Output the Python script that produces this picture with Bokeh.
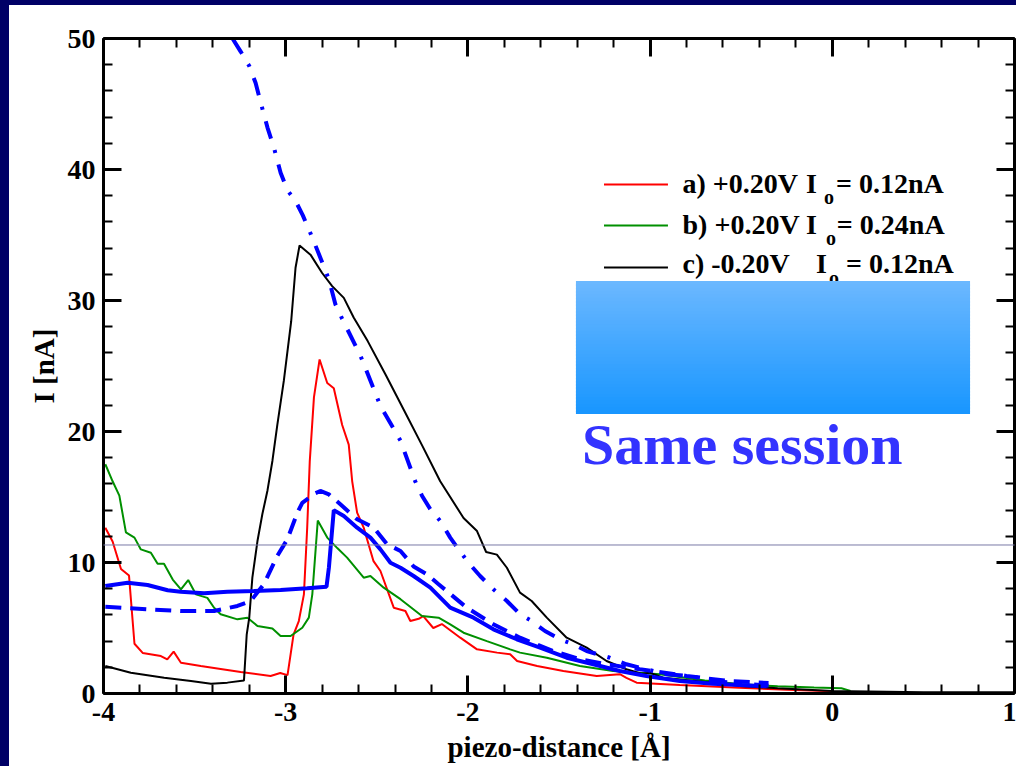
from bokeh.plotting import figure
from bokeh.models import (Range1d, LinearAxis, SingleIntervalTicker, Label,
                          BoxAnnotation, PolyAnnotation, Spacer, CustomJSTickFormatter)
from bokeh.layouts import row, column
from bokeh.embed import file_html
from bokeh.resources import INLINE

# ---------------- data ----------------
red_x = [-3.99, -3.95, -3.904, -3.86, -3.83, -3.785, -3.685, -3.65, -3.615, -3.575,
         -3.466, -3.357, -3.247, -3.083, -3.03, -2.99, -2.957, -2.928, -2.9, -2.882,
         -2.868, -2.845, -2.814, -2.772, -2.736, -2.69, -2.654, -2.635, -2.608, -2.572,
         -2.518, -2.48, -2.407, -2.343, -2.316, -2.27, -2.245, -2.19, -2.143, -2.042,
         -1.95, -1.84, -1.768, -1.73, -1.62, -1.476, -1.293, -1.166, -1.13, -1.074,
         -0.837, -0.51, -0.25, 0.0]
red_y = [12.65, 11.6, 9.5, 9.0, 3.8, 3.1, 2.86, 2.6, 3.2, 2.35,
         2.1, 1.87, 1.64, 1.34, 1.56, 1.4, 4.5, 5.53, 7.57, 12.66,
         17.7, 22.6, 25.5, 23.7, 23.3, 20.5, 19.0, 16.2, 13.8, 12.66,
         10.1, 9.35, 6.55, 6.3, 5.53, 5.7, 5.9, 5.0, 5.3, 4.26,
         3.37, 3.12, 3.0, 2.48, 2.1, 1.72, 1.34, 1.47, 1.2, 0.83,
         0.65, 0.44, 0.28, 0.18]

green_x = [-3.99, -3.95, -3.913, -3.877, -3.83, -3.795, -3.74, -3.703, -3.668, -3.62,
           -3.575, -3.535, -3.493, -3.43, -3.393, -3.357, -3.265, -3.21, -3.155, -3.073,
           -3.028, -2.973, -2.909, -2.873, -2.854, -2.824, -2.772, -2.717, -2.663, -2.572,
           -2.535, -2.462, -2.37, -2.252, -2.161, -2.097, -2.024, -1.896, -1.768, -1.714,
           -1.567, -1.385, -1.203, -0.947, -0.7, -0.5, -0.3, -0.1, 0.05, 0.1]
green_y = [17.5, 16.2, 15.1, 12.3, 11.9, 11.0, 10.75, 9.9, 9.9, 8.7,
           7.95, 8.66, 7.57, 7.3, 6.55, 6.05, 5.66, 5.79, 5.15, 4.97,
           4.39, 4.39, 5.02, 5.79, 7.57, 13.2, 11.9, 11.1, 10.37, 8.84,
           8.97, 8.08, 7.2, 5.92, 5.79, 5.28, 4.64, 4.0, 3.37, 3.12,
           2.73, 2.1, 1.72, 1.47, 1.0, 0.7, 0.55, 0.45, 0.4, 0.2]

black_x = [-3.99, -3.85, -3.667, -3.52, -3.41, -3.32, -3.229, -3.214, -3.2, -3.183,
           -3.155, -3.128, -3.1, -3.073, -3.046, -3.01, -2.97, -2.946, -2.924, -2.864,
           -2.8, -2.745, -2.681, -2.627, -2.55, -2.45, -2.35, -2.25, -2.152, -2.024,
           -1.95, -1.9, -1.841, -1.786, -1.714, -1.65, -1.567, -1.458, -1.348, -1.239,
           -1.13, -1.047, -1.002, -0.929, -0.655, -0.51, -0.3, 0.0, 0.5, 1.0]
black_y = [2.1, 1.59, 1.2, 0.95, 0.75, 0.83, 1.0, 4.5, 5.79, 8.84,
           11.64, 13.7, 15.5, 17.75, 20.5, 23.9, 28.4, 32.5, 34.2, 33.5,
           32.1, 31.1, 30.2, 28.7, 26.9, 24.3, 21.6, 18.9, 16.2, 13.4,
           12.4, 10.8, 10.6, 9.6, 7.7, 7.06, 5.79, 4.26, 3.5, 2.48,
           1.85, 1.51, 1.59, 1.2, 0.83, 0.57, 0.4, 0.2, 0.1, 0.1]

blue_solid_x = [-3.99, -3.867, -3.758, -3.648, -3.576, -3.448, -3.32, -3.174, -3.028, -2.882,
                -2.776, -2.763, -2.736, -2.681, -2.608, -2.535, -2.48, -2.425, -2.37, -2.298,
                -2.206, -2.097, -1.969, -1.86, -1.732, -1.604, -1.458, -1.312, -1.166, -1.02,
                -0.837, -0.655, -0.51, -0.36]
blue_solid_y = [8.2, 8.46, 8.28, 7.88, 7.77, 7.65, 7.77, 7.82, 7.9, 8.03,
                8.15, 9.6, 14.0, 13.55, 12.66, 11.9, 11.0, 9.98, 9.6, 8.97,
                8.08, 6.55, 5.79, 4.9, 4.14, 3.5, 2.73, 2.23, 1.72, 1.34,
                0.95, 0.75, 0.65, 0.55]

blue_dash_x = [-3.99, -3.758, -3.576, -3.393, -3.265, -3.192, -3.12, -3.046, -2.991, -2.936,
               -2.909, -2.836, -2.81, -2.763, -2.7, -2.608, -2.517, -2.444, -2.37, -2.298,
               -2.225, -2.161, -2.006, -1.86, -1.714, -1.531, -1.385, -1.239, -1.056, -0.8,
               -0.566, -0.35]
blue_dash_y = [6.63, 6.43, 6.3, 6.3, 6.68, 7.06, 8.34, 10.5, 11.77, 13.8,
               14.56, 15.3, 15.46, 15.2, 14.44, 13.3, 12.66, 11.4, 10.88, 9.7,
               9.1, 8.34, 6.55, 5.28, 4.26, 3.24, 2.61, 2.23, 1.85, 1.34,
               0.95, 0.8]

blue_dashdot_x = [-3.292, -3.247, -3.2, -3.165, -3.137, -3.1, -3.065, -3.028, -2.99, -2.946,
                  -2.906, -2.854, -2.805, -2.763, -2.727, -2.69, -2.59, -2.48, -2.37, -2.289,
                  -2.252, -2.206, -2.152, -2.097, -2.051, -1.997, -1.933, -1.86, -1.786, -1.714,
                  -1.65, -1.577, -1.495, -1.422, -1.348, -1.221, -1.13, -1.02, -0.91, -0.783,
                  -0.655, -0.545, -0.35]
blue_dashdot_y = [50.0, 49.0, 47.9, 46.6, 45.1, 43.2, 41.7, 39.75, 38.4, 37.6,
                  36.5, 34.8, 33.1, 31.6, 29.7, 28.6, 25.8, 21.95, 19.3, 16.2,
                  15.1, 14.06, 13.17, 11.9, 11.0, 9.98, 8.97, 7.95, 7.06, 6.05,
                  5.53, 4.77, 4.14, 3.76, 3.24, 2.73, 2.23, 1.85, 1.47, 1.34,
                  0.95, 0.83, 0.6]

legend_texts = [("a) +0.20V", "I", "o", "= 0.12nA"),
                ("b) +0.20V", "I", "o", "= 0.24nA"),
                ("c) -0.20V", "I", "o", "= 0.12nA")]
legend_colors = ["#ff0000", "#009000", "#000000"]

x_label = "piezo-distance [Å]"
y_label = "I [nA]"
note_text = "Same session"

# ---------------- styling / layout constants ----------------
FONT = "Liberation Serif"
NAVY = "#000066"

p = figure(width=1007, height=761, x_range=Range1d(-4, 1), y_range=Range1d(0, 50),
           output_backend="svg", toolbar_location=None,
           x_axis_type=None, y_axis_type=None,
           min_border_left=94, min_border_right=2, min_border_top=33, min_border_bottom=73,
           background_fill_color="white", border_fill_color="white",
           outline_line_color=None)
p.xgrid.visible = False
p.ygrid.visible = False

plain_fmt = lambda: CustomJSTickFormatter(code="return String(Math.round(tick));")


def style_axis(ax, show_labels):
    ax.axis_line_width = 3
    ax.axis_line_color = "black"
    ax.major_tick_in = 18
    ax.major_tick_out = 0
    ax.minor_tick_in = 9
    ax.minor_tick_out = 0
    ax.major_tick_line_width = 3
    ax.minor_tick_line_width = 2
    ax.major_tick_line_color = "black"
    ax.minor_tick_line_color = "black"
    ax.major_label_text_font = FONT
    ax.major_label_text_font_style = "bold"
    if show_labels:
        ax.major_label_text_color = "black"
        ax.major_label_text_font_size = "28px"
        ax.major_label_standoff = 8
        ax.formatter = plain_fmt()
    else:
        ax.major_label_text_color = None
        ax.major_label_text_font_size = "1px"
        ax.major_label_standoff = 0
    ax.axis_label_text_font = FONT
    ax.axis_label_text_font_style = "bold"
    ax.axis_label_text_font_size = "29px"
    ax.axis_label_text_color = "black"


xt = lambda: SingleIntervalTicker(interval=1, num_minor_ticks=5)
yt = lambda: SingleIntervalTicker(interval=10, num_minor_ticks=5)

xb = LinearAxis(ticker=xt(), axis_label=x_label)
style_axis(xb, True)
xb.major_label_standoff = 9
xb.axis_label_standoff = 7
p.add_layout(xb, "below")

yl = LinearAxis(ticker=yt(), axis_label=y_label)
style_axis(yl, True)
yl.axis_label_standoff = 5
p.add_layout(yl, "left")

xa = LinearAxis(ticker=xt())
style_axis(xa, False)
p.add_layout(xa, "above")

yr = LinearAxis(ticker=yt())
style_axis(yr, False)
p.add_layout(yr, "right")

# thin horizontal rule across the slide
p.add_layout(PolyAnnotation(xs=[-4.6, 1.1], ys=[11.336, 11.336], line_color="#7a7aa6",
                            line_alpha=1.0, line_width=1, fill_alpha=0))

# ---------------- curves ----------------
p.line(red_x, red_y, line_color="#ff0000", line_width=2)
p.line(green_x, green_y, line_color="#009000", line_width=2)
p.line(black_x, black_y, line_color="black", line_width=2)
p.line(blue_dashdot_x, blue_dashdot_y, line_color="#0000ff", line_width=4,
       line_dash="18 12 3 12")
p.line(blue_dash_x, blue_dash_y, line_color="#0000ff", line_width=4, line_dash="16 9")
p.line(blue_solid_x, blue_solid_y, line_color="#0000ff", line_width=4)

# ---------------- legend (manual, with subscript) ----------------
leg_line_x = (-1.253, -0.902)
leg_line_y = [38.855, 35.725, 32.52]
leg_base_y = [38.92, 35.82, 32.82]
leg_sub_y = [37.92, 34.79, 31.73]
leg_text_x = -0.822
leg_I_x = [-0.145, -0.145, -0.09]
leg_o_x = [-0.045, -0.035, -0.018]
leg_eq_x = [0.02, 0.025, 0.075]

for i, (pre, I, o, post) in enumerate(legend_texts):
    p.add_layout(PolyAnnotation(xs=list(leg_line_x), ys=[leg_line_y[i]] * 2,
                                line_color=legend_colors[i], line_alpha=1.0,
                                line_width=2, fill_alpha=0))
    for txt, xx, yy, fs in [(pre, leg_text_x, leg_base_y[i], "28px"),
                            (I, leg_I_x[i], leg_base_y[i], "28px"),
                            (o, leg_o_x[i], leg_sub_y[i], "20px"),
                            (post, leg_eq_x[i], leg_base_y[i], "28px")]:
        p.add_layout(Label(x=xx, y=yy, text=txt, text_font=FONT, text_font_style="bold",
                           text_font_size=fs, text_color="black",
                           text_baseline="alphabetic", text_align="left"))

# ---------------- gradient box ----------------
box_l, box_r, box_b, box_t = -1.407, 0.756, 21.34, 31.49
top_rgb = (108, 184, 255)
bot_rgb = (24, 150, 255)
n_strips = 40
h = (box_t - box_b) / n_strips
for k in range(n_strips):
    f = (k + 0.5) / n_strips
    c = tuple(int(round(top_rgb[j] + (bot_rgb[j] - top_rgb[j]) * f)) for j in range(3))
    col = "#%02x%02x%02x" % c
    bottom = max(box_b, box_t - (k + 1) * h - 0.6 * h)
    p.add_layout(BoxAnnotation(left=box_l, right=box_r,
                               top=box_t - k * h, bottom=bottom,
                               fill_color=col, fill_alpha=1.0, line_alpha=0))

p.add_layout(Label(x=-1.374, y=19.0, text=note_text, text_font=FONT,
                   text_font_style="bold", text_font_size="58px", text_color="#3333ff",
                   text_baseline="alphabetic", text_align="left"))

left_strip = Spacer(width=9, height=766, styles={"background-color": NAVY})
top_strip = Spacer(width=1007, height=5, styles={"background-color": NAVY})
layout = row(left_strip, column(top_strip, p, spacing=0), spacing=0)

open("out.html", "w").write(file_html(layout, INLINE))
